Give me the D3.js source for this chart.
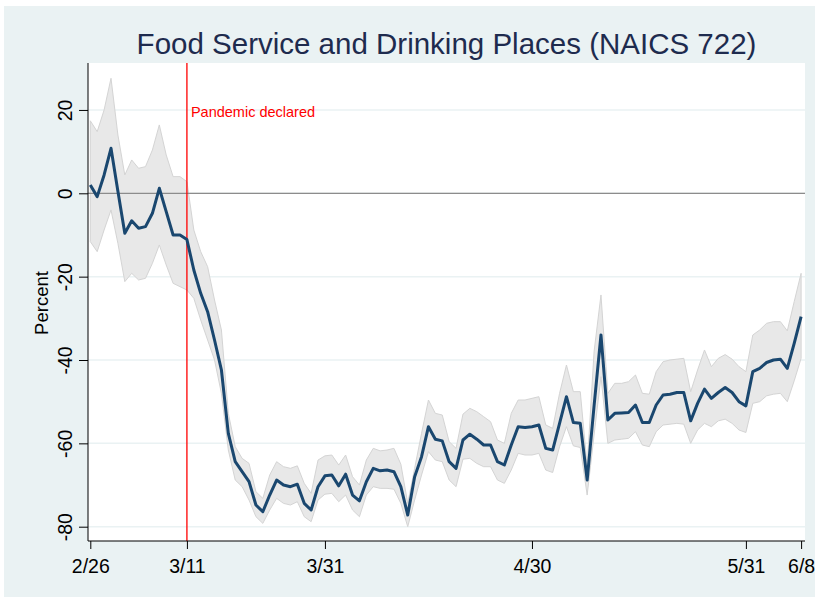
<!DOCTYPE html>
<html><head><meta charset="utf-8">
<script src="https://cdn.jsdelivr.net/npm/d3@7"></script>
<style>body{margin:0;background:#fff}svg{display:block}text{font-family:"Liberation Sans",Arial,sans-serif}</style>
</head><body>
<svg id="c" width="819" height="599"></svg>
<script>
const startDate = "2020-02-26";
const estimate = [2.0,-0.8,4.4,10.8,0.5,-9.6,-6.6,-8.4,-8.0,-4.8,1.2,-4.4,-10.0,-10.0,-11.1,
-18.4,-24.0,-28.4,-35.2,-42.4,-57.6,-64.4,-66.8,-69.2,-74.8,-76.4,-72.4,-68.8,-70.0,-70.4,-69.8,
-74.4,-76.0,-70.4,-67.8,-67.6,-70.2,-67.4,-72.4,-73.8,-69.2,-66.0,-66.6,-66.4,-66.8,-70.4,-77.2,
-68.0,-63.2,-56.0,-59.0,-59.4,-64.4,-66.0,-59.2,-57.8,-59.0,-60.4,-60.4,-64.4,-65.2,-60.4,-56.0,
-56.2,-56.0,-55.6,-61.2,-61.6,-55.2,-48.8,-55.0,-55.2,-68.8,-51.0,-34.0,-54.4,-52.8,-52.7,-52.6,
-50.8,-55.0,-55.0,-50.8,-48.4,-48.2,-47.8,-47.8,-54.6,-50.4,-47.0,-49.2,-47.8,-46.6,-47.8,-50.0,
-51.0,-42.8,-42.0,-40.6,-40.0,-39.8,-42.0,-36.0,-29.6];
const upper = [17.4,14.8,20.0,27.6,14.0,4.4,8.0,6.0,6.4,10.4,16.4,9.2,4.0,4.0,2.8,
-8.8,-14.0,-17.6,-25.6,-32.8,-52.8,-60.8,-63.6,-64.8,-71.6,-73.2,-67.6,-64.4,-65.6,-66.0,-65.4,
-69.6,-72.0,-64.0,-63.0,-62.8,-65.2,-62.8,-68.0,-70.0,-64.0,-61.2,-61.8,-61.6,-61.2,-65.0,-74.4,
-66.0,-57.6,-49.6,-52.8,-53.2,-59.6,-61.2,-53.0,-51.6,-52.4,-53.6,-54.8,-59.2,-60.0,-52.8,-49.6,
-49.6,-49.2,-48.8,-55.6,-56.4,-48.0,-41.2,-47.6,-47.6,-65.6,-38.0,-24.4,-48.0,-45.6,-45.6,-45.2,
-43.6,-48.0,-48.2,-42.8,-40.4,-40.0,-39.8,-39.6,-47.6,-42.4,-37.6,-41.6,-39.6,-38.7,-39.8,-41.6,
-42.8,-34.0,-32.8,-31.2,-30.8,-30.8,-33.0,-26.0,-19.2];
const lower = [-11.6,-14.0,-8.8,-4.0,-12.0,-21.2,-19.2,-20.8,-20.4,-16.8,-12.4,-17.2,-21.6,-22.4,-23.2,
-25.2,-30.4,-35.2,-40.0,-48.0,-61.6,-68.8,-70.4,-73.6,-77.6,-79.2,-76.0,-73.2,-74.4,-74.8,-74.0,
-77.6,-78.8,-73.6,-72.2,-72.0,-74.0,-72.4,-76.0,-77.6,-72.4,-70.4,-70.8,-70.8,-71.0,-74.4,-80.0,
-73.6,-67.6,-62.0,-64.0,-64.4,-68.8,-70.4,-63.8,-63.6,-64.8,-65.6,-65.6,-68.8,-69.6,-66.4,-62.4,
-62.8,-62.8,-62.4,-66.4,-67.0,-60.8,-56.0,-60.6,-61.0,-72.4,-58.0,-44.0,-60.0,-59.2,-59.0,-58.8,
-57.2,-60.4,-60.8,-57.2,-55.6,-55.4,-55.2,-55.4,-60.0,-56.8,-55.2,-56.0,-54.6,-54.2,-55.2,-56.8,
-57.4,-50.4,-50.0,-48.6,-48.2,-48.0,-50.0,-45.0,-39.6];
const yTicks = [20,0,-20,-40,-60,-80];
const xTickLabels = ["2/26","3/11","3/31","4/30","5/31","6/8"];
const xTickDates = ["2020-02-26","2020-03-11","2020-03-31","2020-04-30","2020-05-31","2020-06-08"];
const eventDate = "2020-03-11";
const eventLabel = "Pandemic declared";
const titleText = "Food Service and Drinking Places (NAICS 722)";
const yLabel = "Percent";

const parse = d3.timeParse("%Y-%m-%d");
const t0 = parse(startDate);
const data = estimate.map((v,i)=>({date:d3.timeDay.offset(t0,i), v, hi:upper[i], lo:lower[i]}));

const svg = d3.select("#c");
const L=88, R=805, T=63, B=541;
svg.append("rect").attr("x",4).attr("y",6).attr("width",811).attr("height",591).attr("fill","#eaf2f3");
svg.append("rect").attr("x",L).attr("y",T).attr("width",R-L).attr("height",B-T).attr("fill","#fff");

const x = d3.scaleTime().domain([d3.timeDay.offset(t0,0), d3.timeDay.offset(t0,103)]).range([90.3,801.1]);
const y = d3.scaleLinear().domain([0,-80]).range([193.3,526.7]);

// grid
svg.append("g").selectAll("line").data(yTicks).join("line")
  .attr("x1",L).attr("x2",R).attr("y1",d=>y(d)).attr("y2",d=>y(d))
  .attr("stroke","#eaf2f3").attr("stroke-width",1.5);

// band
svg.append("path").datum(data)
  .attr("d",d3.area().x(d=>x(d.date)).y0(d=>y(d.lo)).y1(d=>y(d.hi)))
  .attr("fill","#e8e8e8").attr("stroke","#d4d4d4").attr("stroke-width",1);

// zero line
svg.append("line").attr("x1",L).attr("x2",R).attr("y1",y(0)).attr("y2",y(0))
  .attr("stroke","#8c8c8c").attr("stroke-width",1.3);

// event line
const ex = x(parse(eventDate));
svg.append("line").attr("x1",ex).attr("x2",ex).attr("y1",T).attr("y2",B)
  .attr("stroke","#ff0000").attr("stroke-width",1.3);
svg.append("text").attr("x",ex+4).attr("y",117).attr("fill","#ff0000")
  .attr("font-size",14.5).text(eventLabel);

// line
svg.append("path").datum(data)
  .attr("d",d3.line().x(d=>x(d.date)).y(d=>y(d.v)))
  .attr("fill","none").attr("stroke","#1a476f").attr("stroke-width",3).attr("stroke-linejoin","round");

// axes
const xAxis = d3.axisBottom(x).tickValues(xTickDates.map(parse))
  .tickFormat((d,i)=>xTickLabels[i]).tickSize(8).tickSizeOuter(0);
const gx = svg.append("g").attr("transform",`translate(0,${B})`).call(xAxis);
gx.select(".domain").attr("d",`M${L},0H${R}`).attr("stroke","#000").attr("stroke-width",1);
gx.selectAll(".tick line").attr("stroke","#000");
gx.selectAll(".tick text").attr("font-size",19.5).attr("fill","#000")
  .attr("y",32).attr("dy",null)
  .attr("font-family","'Liberation Sans',Arial,sans-serif");

const yAxis = d3.axisLeft(y).tickValues(yTicks).tickFormat(d=>String(d)).tickSize(9).tickSizeOuter(0);
const gy = svg.append("g").attr("transform",`translate(${L},0)`).call(yAxis);
gy.select(".domain").attr("d",`M0,${T}V${B}`).attr("stroke","#000").attr("stroke-width",1);
gy.selectAll(".tick line").attr("stroke","#000");
gy.selectAll(".tick text").attr("font-size",19.5).attr("fill","#000")
  .attr("font-family","'Liberation Sans',Arial,sans-serif")
  .attr("x",null).attr("dy",null).attr("text-anchor","middle")
  .attr("transform","translate(-16,0) rotate(-90)");

svg.append("text").attr("transform","translate(48,303) rotate(-90)")
  .attr("text-anchor","middle").attr("font-size",18.5).attr("fill","#000").text(yLabel);

svg.append("text").attr("x",446.5).attr("y",53.5).attr("text-anchor","middle")
  .attr("font-size",29.5).attr("fill","#1e2b4e").text(titleText);
</script>
</body></html>
